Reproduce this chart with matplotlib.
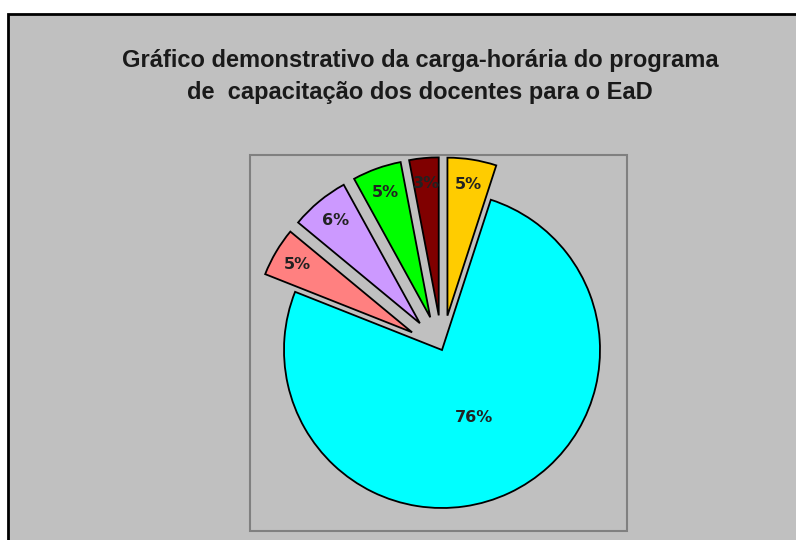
import numpy as np
import matplotlib.pyplot as plt
from matplotlib.patches import Rectangle

title = 'Gráfico demonstrativo da carga-horária do programa\nde  capacitação dos docentes para o EaD'
shares = [5, 76, 5, 6, 5, 3]
colors = ['#FFCC00', '#00FFFF', '#FF8080', '#CC99FF', '#00FF00', '#800000']
explode = [0.22, 0, 0.22, 0.22, 0.22, 0.22]

W, H = 796, 540
fig = plt.figure(figsize=(W / 100, H / 100), dpi=100)
ax = fig.add_axes([0, 0, 1, 1])

# chart area with black border on top/left
ax.add_patch(Rectangle((8, -10), 820, H - 14 + 10, facecolor='#C0C0C0',
                       edgecolor='black', lw=2, zorder=0))
# plot area
ax.add_patch(Rectangle((250, 9), 377, 376, facecolor='#C0C0C0',
                       edgecolor='#808080', lw=1.5, zorder=1))

ax.text(420, 463, title, ha='center', va='center', fontsize=17,
        fontweight='bold', family='Liberation Sans', color='#1a1a1a',
        linespacing=1.5)

cx, cy, r = 442, 190, 158
# explode in pie is in data units, so scale it by the radius
wedges, _ = ax.pie(shares, colors=colors, explode=[e * r for e in explode],
                   startangle=90, counterclock=False, center=(cx, cy),
                   radius=r, wedgeprops=dict(edgecolor='black', linewidth=1.3),
                   frame=True)
for w in wedges:
    w.set_zorder(2)

ax.set_xlim(0, W)
ax.set_ylim(0, H)
ax.set_aspect('auto')
ax.axis('off')

for w, v, e in zip(wedges, shares, explode):
    mid = np.deg2rad((w.theta1 + w.theta2) / 2)
    f = 0.47 if v > 50 else 0.84
    d = (e + f) * r
    ax.text(cx + d * np.cos(mid), cy + d * np.sin(mid), f'{v}%',
            ha='center', va='center', fontsize=11.5, fontweight='bold',
            family='DejaVu Sans', color='#222222', zorder=3)

fig.savefig('out.png', dpi=100)
